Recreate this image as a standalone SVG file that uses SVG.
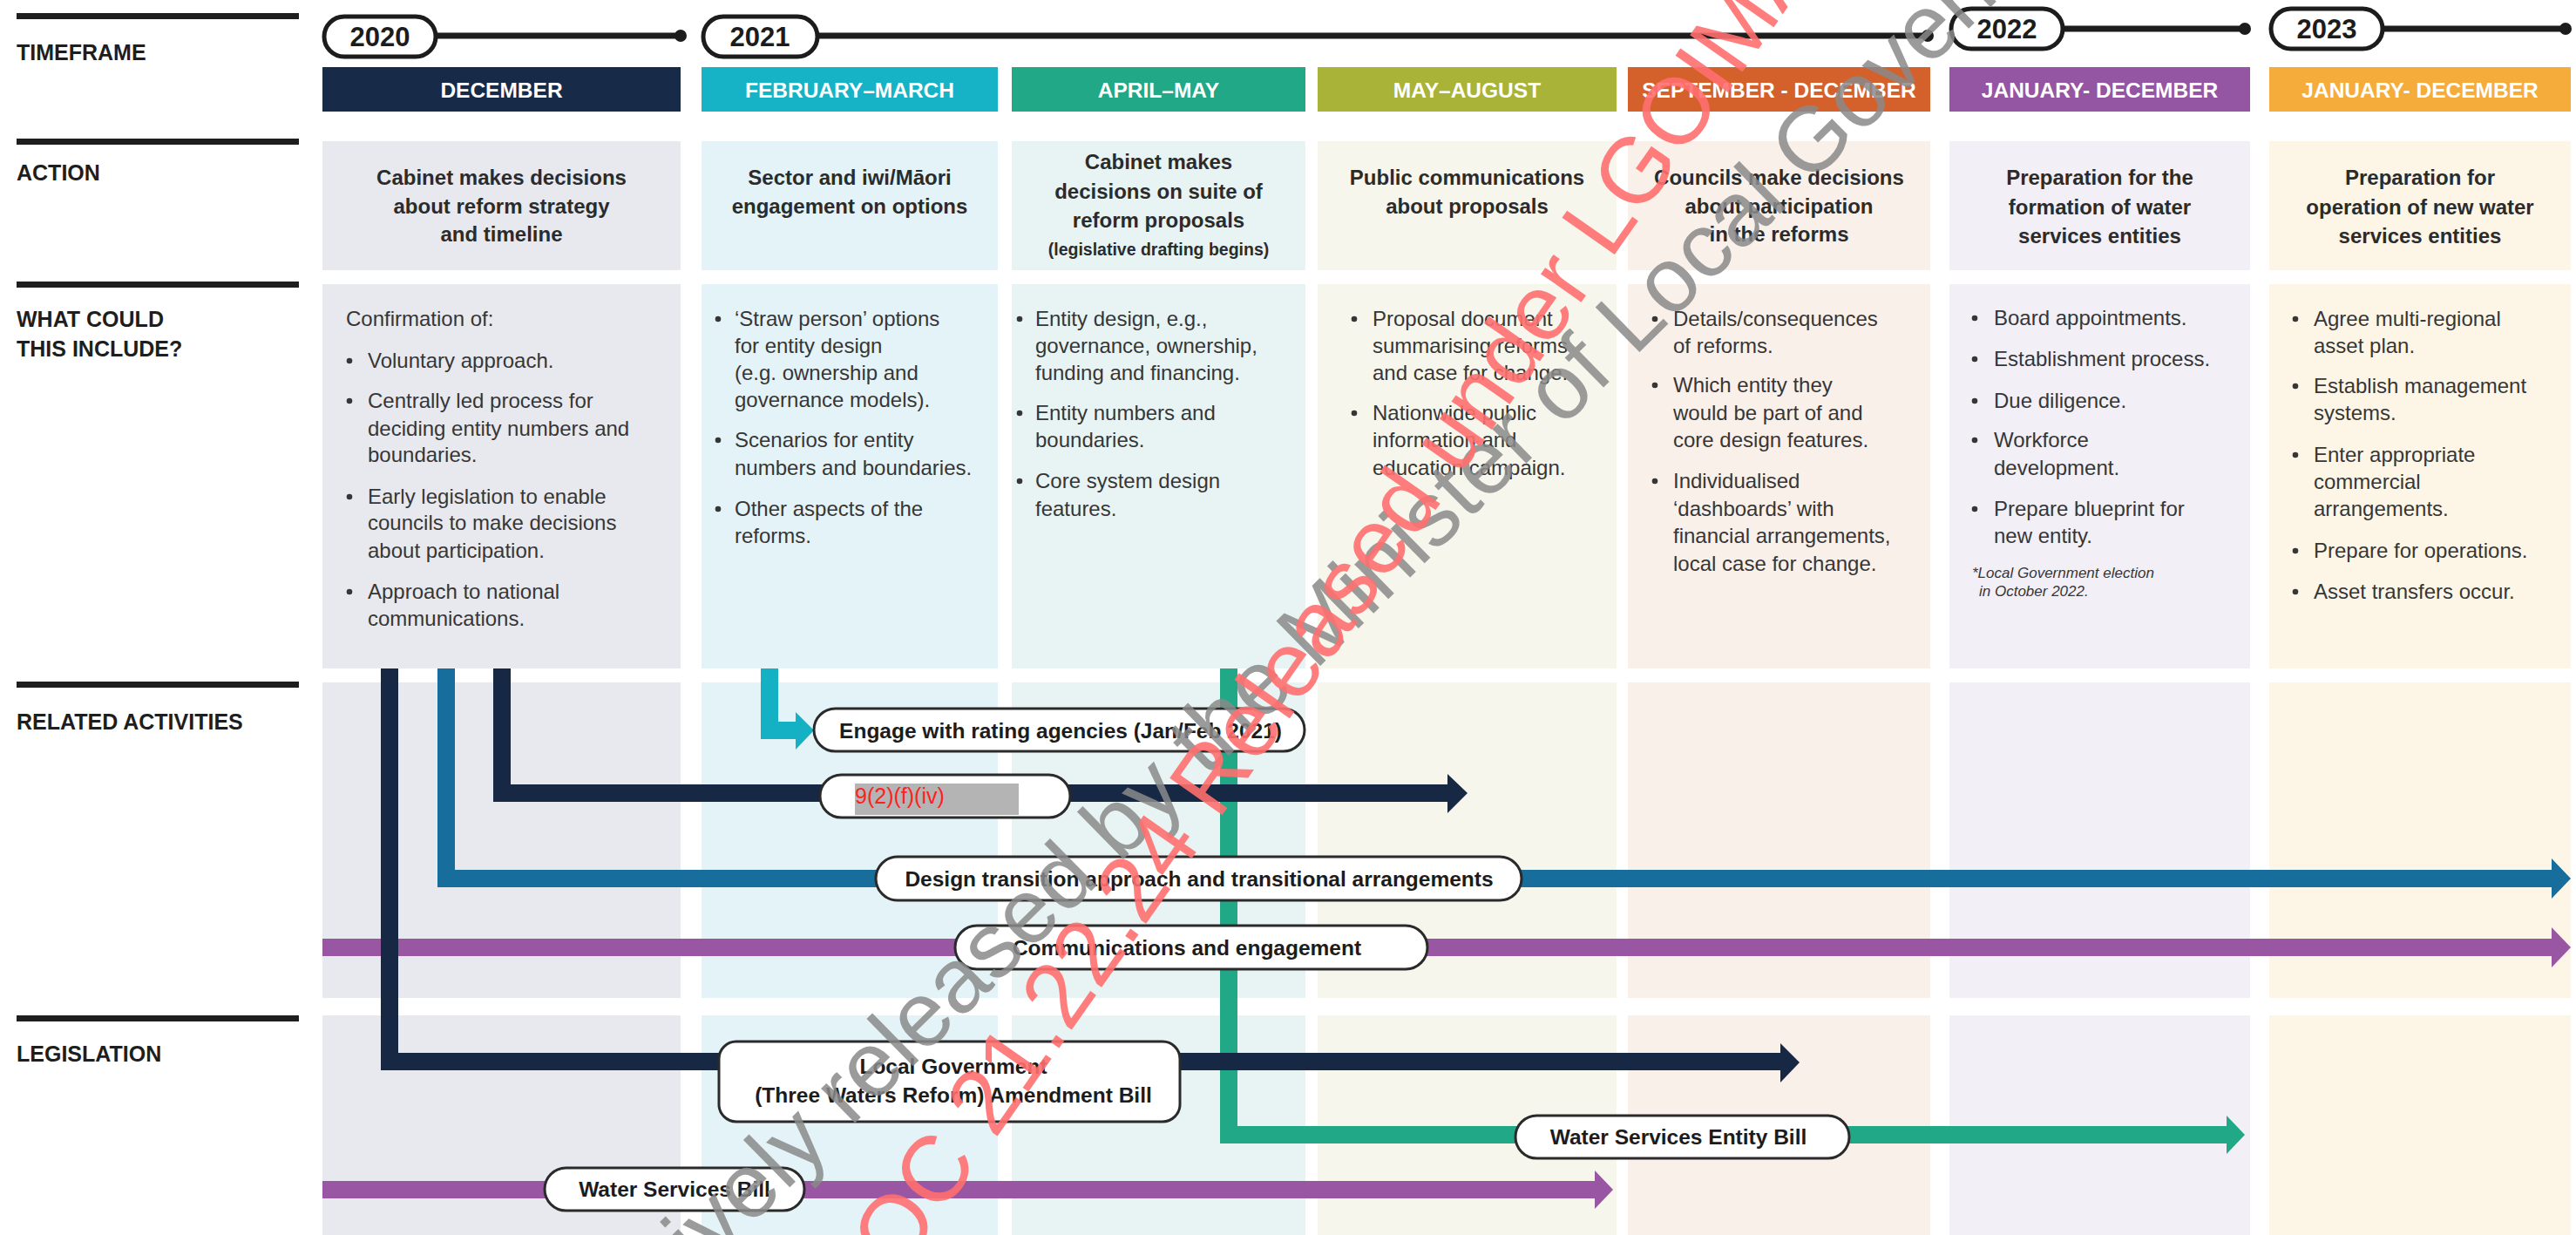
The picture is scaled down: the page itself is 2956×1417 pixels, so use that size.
<svg xmlns="http://www.w3.org/2000/svg" width="2956" height="1417" viewBox="0 0 2956 1417">
<defs>
<style>
.bg{fill:#ffffff}
.bar{fill:#1e1e1e}
.lbl{font-family:"Liberation Sans",Arial,sans-serif;font-weight:bold;font-size:25px;fill:#1e1e1e}
.yp{fill:#ffffff;stroke:#1c1c1c;stroke-width:5}
.yt{font-family:"Liberation Sans",Arial,sans-serif;font-weight:bold;font-size:31px;fill:#1c1c1c;text-anchor:middle}
.tl{stroke:#1c1c1c;stroke-width:7;fill:none}
.dot{fill:#1c1c1c}
.ch{font-family:"Liberation Sans",Arial,sans-serif;font-weight:bold;font-size:24.5px;fill:#ffffff;text-anchor:middle}
.act{font-family:"Liberation Sans",Arial,sans-serif;font-weight:bold;font-size:24px;fill:#2b2b2b;text-anchor:middle}
.actS{font-family:"Liberation Sans",Arial,sans-serif;font-weight:bold;font-size:19.5px;fill:#2b2b2b;text-anchor:middle}
.bd{font-family:"Liberation Sans",Arial,sans-serif;font-size:24px;fill:#363636}
.note{font-family:"Liberation Sans",Arial,sans-serif;font-style:italic;font-size:17px;fill:#363636}
.bu{fill:#363636}
.pill{fill:#ffffff;stroke:#2a2a2a;stroke-width:3}
.pt{font-family:"Liberation Sans",Arial,sans-serif;font-weight:bold;font-size:24.5px;fill:#1c1c1c;text-anchor:middle}
.ln{fill:none;stroke-width:20;stroke-linejoin:miter;stroke-linecap:butt}
.wmg{font-family:"Liberation Sans",Arial,sans-serif;font-size:105px;fill:#8a8a8a;fill-opacity:0.85}
.wmr{font-family:"Liberation Sans",Arial,sans-serif;font-size:107px;fill:#ff6f6f;fill-opacity:0.9}
</style>
</defs>
<rect class="bg" x="0" y="0" width="2956" height="1417"/>

<g id="row-labels">
<rect class="bar" x="19" y="15" width="324" height="7"/>
<text class="lbl" x="19" y="69">TIMEFRAME</text>
<rect class="bar" x="19" y="159" width="324" height="7"/>
<text class="lbl" x="19" y="207">ACTION</text>
<rect class="bar" x="19" y="323" width="324" height="7"/>
<text class="lbl" x="19" y="375">WHAT COULD</text>
<text class="lbl" x="19" y="409">THIS INCLUDE?</text>
<rect class="bar" x="19" y="782" width="324" height="7"/>
<text class="lbl" x="19" y="837">RELATED ACTIVITIES</text>
<rect class="bar" x="19" y="1165" width="324" height="7"/>
<text class="lbl" x="19" y="1218">LEGISLATION</text>
</g>

<g id="timeline">
<line class="tl" x1="500" y1="41" x2="781" y2="41"/><circle class="dot" cx="781" cy="41" r="7"/>
<rect class="yp" x="372" y="19" width="128" height="46" rx="23"/><text class="yt" x="436" y="53">2020</text>
<line class="tl" x1="939" y1="41" x2="2212" y2="41"/><circle class="dot" cx="2212" cy="41" r="7"/>
<rect class="yp" x="807" y="19" width="131" height="46" rx="23"/><text class="yt" x="872" y="53">2021</text>
<line class="tl" x1="2368" y1="33" x2="2576" y2="33"/><circle class="dot" cx="2576" cy="33" r="7"/>
<rect class="yp" x="2239" y="10" width="128" height="46" rx="23"/><text class="yt" x="2303" y="44">2022</text>
<line class="tl" x1="2735" y1="33" x2="2944" y2="33"/><circle class="dot" cx="2944" cy="33" r="7"/>
<rect class="yp" x="2606" y="10" width="128" height="46" rx="23"/><text class="yt" x="2670" y="44">2023</text>
</g>

<g id="col-dec">
<rect x="370" y="77" width="411" height="51" fill="#172a47"/>
<text class="ch" x="575.5" y="112">DECEMBER</text>
<rect x="370" y="162" width="411" height="148" fill="#e8e9ee"/>
<text class="act" x="575.5" y="212">Cabinet makes decisions</text>
<text class="act" x="575.5" y="245">about reform strategy</text>
<text class="act" x="575.5" y="277">and timeline</text>
<rect x="370" y="326" width="411" height="441" fill="#e8e9ee"/>
<text class="bd" x="397" y="374">Confirmation of:</text>
<circle class="bu" cx="401" cy="414" r="3.3"/><text class="bd" x="422" y="422">Voluntary approach.</text>
<circle class="bu" cx="401" cy="460" r="3.3"/><text class="bd" x="422" y="468">Centrally led process for</text>
<text class="bd" x="422" y="500">deciding entity numbers and</text>
<text class="bd" x="422" y="530">boundaries.</text>
<circle class="bu" cx="401" cy="570" r="3.3"/><text class="bd" x="422" y="578">Early legislation to enable</text>
<text class="bd" x="422" y="608">councils to make decisions</text>
<text class="bd" x="422" y="640">about participation.</text>
<circle class="bu" cx="401" cy="679" r="3.3"/><text class="bd" x="422" y="687">Approach to national</text>
<text class="bd" x="422" y="718">communications.</text>
<rect x="370" y="783" width="411" height="362" fill="#e8e9ee"/>
<rect x="370" y="1165" width="411" height="252" fill="#e8e9ee"/>
</g>

<g id="col-febmar">
<rect x="805" y="77" width="340" height="51" fill="#16b2c5"/>
<text class="ch" x="975" y="112">FEBRUARY–MARCH</text>
<rect x="805" y="162" width="340" height="148" fill="#e4f3f7"/>
<text class="act" x="975" y="212">Sector and iwi/Māori</text>
<text class="act" x="975" y="245">engagement on options</text>
<rect x="805" y="326" width="340" height="441" fill="#e4f3f7"/>
<circle class="bu" cx="824" cy="366" r="3.3"/><text class="bd" x="843" y="374">‘Straw person’ options</text>
<text class="bd" x="843" y="405">for entity design</text>
<text class="bd" x="843" y="436">(e.g. ownership and</text>
<text class="bd" x="843" y="467">governance models).</text>
<circle class="bu" cx="824" cy="505" r="3.3"/><text class="bd" x="843" y="513">Scenarios for entity</text>
<text class="bd" x="843" y="545">numbers and boundaries.</text>
<circle class="bu" cx="824" cy="584" r="3.3"/><text class="bd" x="843" y="592">Other aspects of the</text>
<text class="bd" x="843" y="623">reforms.</text>
<rect x="805" y="783" width="340" height="362" fill="#e4f3f7"/>
<rect x="805" y="1165" width="340" height="252" fill="#e4f3f7"/>
</g>

<g id="col-aprmay">
<rect x="1161" y="77" width="337" height="51" fill="#21a886"/>
<text class="ch" x="1329.5" y="112">APRIL–MAY</text>
<rect x="1161" y="162" width="337" height="148" fill="#e7f4f3"/>
<text class="act" x="1329.5" y="194">Cabinet makes</text>
<text class="act" x="1329.5" y="228">decisions on suite of</text>
<text class="act" x="1329.5" y="261">reform proposals</text>
<text class="actS" x="1329.5" y="293">(legislative drafting begins)</text>
<rect x="1161" y="326" width="337" height="441" fill="#e7f4f3"/>
<circle class="bu" cx="1170" cy="366" r="3.3"/><text class="bd" x="1188" y="374">Entity design, e.g.,</text>
<text class="bd" x="1188" y="405">governance, ownership,</text>
<text class="bd" x="1188" y="436">funding and financing.</text>
<circle class="bu" cx="1170" cy="474" r="3.3"/><text class="bd" x="1188" y="482">Entity numbers and</text>
<text class="bd" x="1188" y="513">boundaries.</text>
<circle class="bu" cx="1170" cy="552" r="3.3"/><text class="bd" x="1188" y="560">Core system design</text>
<text class="bd" x="1188" y="592">features.</text>
<rect x="1161" y="783" width="337" height="362" fill="#e7f4f3"/>
<rect x="1161" y="1165" width="337" height="252" fill="#e7f4f3"/>
</g>

<g id="col-mayaug">
<rect x="1512" y="77" width="343" height="51" fill="#a9b337"/>
<text class="ch" x="1683.5" y="112">MAY–AUGUST</text>
<rect x="1512" y="162" width="343" height="148" fill="#f6f6ec"/>
<text class="act" x="1683.5" y="212">Public communications</text>
<text class="act" x="1683.5" y="245">about proposals</text>
<rect x="1512" y="326" width="343" height="441" fill="#f6f6ec"/>
<circle class="bu" cx="1554" cy="366" r="3.3"/><text class="bd" x="1575" y="374">Proposal document</text>
<text class="bd" x="1575" y="405">summarising reforms</text>
<text class="bd" x="1575" y="436">and case for change.</text>
<circle class="bu" cx="1554" cy="474" r="3.3"/><text class="bd" x="1575" y="482">Nationwide public</text>
<text class="bd" x="1575" y="513">information and</text>
<text class="bd" x="1575" y="545">education campaign.</text>
<rect x="1512" y="783" width="343" height="362" fill="#f6f6ec"/>
<rect x="1512" y="1165" width="343" height="252" fill="#f6f6ec"/>
</g>

<g id="col-sepdec">
<rect x="1868" y="77" width="347" height="51" fill="#d4612b"/>
<text class="ch" x="2041.5" y="112">SEPTEMBER - DECEMBER</text>
<rect x="1868" y="162" width="347" height="148" fill="#faf0ea"/>
<text class="act" x="2041.5" y="212">Councils make decisions</text>
<text class="act" x="2041.5" y="245">about participation</text>
<text class="act" x="2041.5" y="277">in the reforms</text>
<rect x="1868" y="326" width="347" height="441" fill="#faf0ea"/>
<circle class="bu" cx="1899" cy="366" r="3.3"/><text class="bd" x="1920" y="374">Details/consequences</text>
<text class="bd" x="1920" y="405">of reforms.</text>
<circle class="bu" cx="1899" cy="442" r="3.3"/><text class="bd" x="1920" y="450">Which entity they</text>
<text class="bd" x="1920" y="482">would be part of and</text>
<text class="bd" x="1920" y="513">core design features.</text>
<circle class="bu" cx="1899" cy="552" r="3.3"/><text class="bd" x="1920" y="560">Individualised</text>
<text class="bd" x="1920" y="592">‘dashboards’ with</text>
<text class="bd" x="1920" y="623">financial arrangements,</text>
<text class="bd" x="1920" y="655">local case for change.</text>
<rect x="1868" y="783" width="347" height="362" fill="#faf0ea"/>
<rect x="1868" y="1165" width="347" height="252" fill="#faf0ea"/>
</g>

<g id="col-2022">
<rect x="2237" y="77" width="345" height="51" fill="#9455a2"/>
<text class="ch" x="2409.5" y="112">JANUARY- DECEMBER</text>
<rect x="2237" y="162" width="345" height="148" fill="#f2eff6"/>
<text class="act" x="2409.5" y="212">Preparation for the</text>
<text class="act" x="2409.5" y="246">formation of water</text>
<text class="act" x="2409.5" y="279">services entities</text>
<rect x="2237" y="326" width="345" height="441" fill="#f2eff6"/>
<circle class="bu" cx="2266" cy="365" r="3.3"/><text class="bd" x="2288" y="373">Board appointments.</text>
<circle class="bu" cx="2266" cy="412" r="3.3"/><text class="bd" x="2288" y="420">Establishment process.</text>
<circle class="bu" cx="2266" cy="460" r="3.3"/><text class="bd" x="2288" y="468">Due diligence.</text>
<circle class="bu" cx="2266" cy="505" r="3.3"/><text class="bd" x="2288" y="513">Workforce</text>
<text class="bd" x="2288" y="545">development.</text>
<circle class="bu" cx="2266" cy="584" r="3.3"/><text class="bd" x="2288" y="592">Prepare blueprint for</text>
<text class="bd" x="2288" y="623">new entity.</text>
<text class="note" x="2263" y="663">*Local Government election</text>
<text class="note" x="2271" y="684">in October 2022.</text>
<rect x="2237" y="783" width="345" height="362" fill="#f2eff6"/>
<rect x="2237" y="1165" width="345" height="252" fill="#f2eff6"/>
</g>

<g id="col-2023">
<rect x="2604" y="77" width="346" height="51" fill="#f5ac3b"/>
<text class="ch" x="2777" y="112">JANUARY- DECEMBER</text>
<rect x="2604" y="162" width="346" height="148" fill="#fdf6e7"/>
<text class="act" x="2777" y="212">Preparation for</text>
<text class="act" x="2777" y="246">operation of new water</text>
<text class="act" x="2777" y="279">services entities</text>
<rect x="2604" y="326" width="346" height="441" fill="#fdf6e7"/>
<circle class="bu" cx="2634" cy="366" r="3.3"/><text class="bd" x="2655" y="374">Agree multi-regional</text>
<text class="bd" x="2655" y="405">asset plan.</text>
<circle class="bu" cx="2634" cy="443" r="3.3"/><text class="bd" x="2655" y="451">Establish management</text>
<text class="bd" x="2655" y="482">systems.</text>
<circle class="bu" cx="2634" cy="522" r="3.3"/><text class="bd" x="2655" y="530">Enter appropriate</text>
<text class="bd" x="2655" y="561">commercial</text>
<text class="bd" x="2655" y="592">arrangements.</text>
<circle class="bu" cx="2634" cy="632" r="3.3"/><text class="bd" x="2655" y="640">Prepare for operations.</text>
<circle class="bu" cx="2634" cy="679" r="3.3"/><text class="bd" x="2655" y="687">Asset transfers occur.</text>
<rect x="2604" y="783" width="346" height="362" fill="#fdf6e7"/>
<rect x="2604" y="1165" width="346" height="252" fill="#fdf6e7"/>
</g>

<g id="connectors">
<path class="ln" stroke="#21a886" d="M1410,767 V1302 H2556"/>
<polygon fill="#21a886" points="2555,1280 2576,1302 2555,1324"/>
<path class="ln" stroke="#9956a2" d="M370,1087 H2930"/>
<polygon fill="#9956a2" points="2928,1064 2950,1087 2928,1110"/>
<path class="ln" stroke="#9956a2" d="M370,1365 H1831"/>
<polygon fill="#9956a2" points="1830,1343 1851,1365 1830,1387"/>
<path class="ln" stroke="#176d9c" d="M512,767 V1008 H2930"/>
<polygon fill="#176d9c" points="2928,985 2950,1008 2928,1031"/>
<path class="ln" stroke="#162844" d="M447,767 V1218 H2045"/>
<polygon fill="#162844" points="2043,1197 2065,1219 2043,1242"/>
<path class="ln" stroke="#162844" d="M576,767 V910 H1662"/>
<polygon fill="#162844" points="1661,888 1684,910 1661,933"/>
<path class="ln" stroke="#14b1c4" d="M883,767 V838 H914"/>
<polygon fill="#14b1c4" points="913,817 934,838 913,860"/>
</g>

<g id="pill-rating">
<rect class="pill" x="934" y="813" width="563" height="49" rx="24.5"/>
<text class="pt" x="1217" y="847">Engage with rating agencies (Jan/Feb 2021)</text>
</g>
<g id="pill-redacted">
<rect class="pill" x="941" y="889" width="287" height="49" rx="24.5"/>
<rect x="981" y="899" width="188" height="36" fill="#b4b4b4"/>
<text x="981" y="922" font-family="Liberation Sans, Arial, sans-serif" font-size="25" fill="#ff1f1f">9(2)(f)(iv)</text>
</g>
<g id="pill-design">
<rect class="pill" x="1005" y="983" width="741" height="50" rx="25"/>
<text class="pt" x="1376" y="1017">Design transition approach and transitional arrangements</text>
</g>
<g id="pill-comms">
<rect class="pill" x="1096" y="1062" width="542" height="50" rx="25"/>
<text class="pt" x="1362" y="1096">Communications and engagement</text>
</g>
<g id="pill-localgov">
<rect class="pill" x="825" y="1195" width="529" height="92" rx="20"/>
<text class="pt" x="1094" y="1232">Local Government</text>
<text class="pt" x="1094" y="1265">(Three Waters Reform) Amendment Bill</text>
</g>
<g id="pill-wseb">
<rect class="pill" x="1739" y="1280" width="383" height="49" rx="24.5"/>
<text class="pt" x="1926" y="1313">Water Services Entity Bill</text>
</g>
<g id="pill-wsb">
<rect class="pill" x="625" y="1340" width="298" height="49" rx="24.5"/>
<text class="pt" x="774" y="1373">Water Services Bill</text>
</g>

<g id="watermarks">
<text class="wmg" transform="translate(589,1674) rotate(-44.5)">Proactively released by the Minister of Local Government</text>
<text class="wmr" transform="translate(988,1527) rotate(-55)">DOC 21.22.24 Released under LGOIMA</text>
</g>
</svg>
